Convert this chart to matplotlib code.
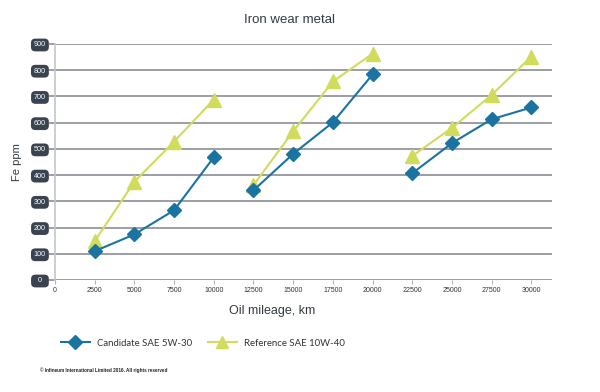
import matplotlib.pyplot as plt
from matplotlib.lines import Line2D

plt.rcParams['font.family'] = ['Liberation Sans', 'DejaVu Sans']

# mileage (km) for each test block
km = [2500, 5000, 7500, 10000, 12500, 15000, 17500, 20000,
      22500, 25000, 27500, 30000]
candidate = [110, 174, 266, 468, 342, 481, 601, 784, 407, 522, 613, 658]
reference = [148, 375, 528, 688, 362, 567, 757, 863, 473, 580, 706, 852]
blocks = [(0, 4), (4, 8), (8, 12)]

yticks = [0, 100, 200, 300, 400, 500, 600, 700, 800, 900]
xticks = [0, 2500, 5000, 7500, 10000, 12500, 15000, 17500, 20000,
          22500, 25000, 27500, 30000]

blue = '#1a73a0'
green = '#d1db5c'
dark = '#3a4350'

fig = plt.figure(figsize=(6, 3.92), dpi=100)
ax = fig.add_axes([55/600, 1-280/392, (552-55)/600, (280-44)/392])

for a, b in blocks:
    ax.plot(km[a:b], reference[a:b], '-^', color=green, lw=1.5, ms=9.5,
            mec=green, zorder=3)
    ax.plot(km[a:b], candidate[a:b], '-D', color=blue, lw=1.5, ms=7.5,
            mec=blue, zorder=4)

ax.set_xlim(0, 31300)
ax.set_ylim(0, 900)
ax.set_xticks(xticks)
ax.set_xticklabels([str(x) for x in xticks], fontsize=5, color='#333333')
ax.set_yticks(yticks)
ax.set_yticklabels([str(y) if y else '  0  ' for y in yticks],
                   fontsize=5.2, color='white')
for lab in ax.get_yticklabels():
    lab.set_bbox(dict(boxstyle='round,pad=0.4,rounding_size=0.6',
                      fc=dark, ec='none'))
ax.tick_params(axis='y', length=4, width=1.2, color='#8a8d96', pad=2.5)
ax.tick_params(axis='x', length=3, width=0.8, color='#b0b0b8', pad=2)

ax.grid(axis='y', color='#8a8d96', lw=1.2)
ax.set_axisbelow(True)
for s in ['top', 'right', 'bottom']:
    ax.spines[s].set_visible(False)
ax.spines['left'].set_color('#c4c6cc')
ax.spines['left'].set_linewidth(1.2)

fig.text(290/600, 1-20/392, 'Iron wear metal', ha='center', va='center',
         fontsize=9.5, color='#333a45')
fig.text(272/600, 1-311/392, 'Oil mileage, km', ha='center', va='center',
         fontsize=9, color='#333a45')
fig.text(17/600, 1-162/392, 'Fe ppm', ha='center', va='center',
         rotation=90, fontsize=8, color='#333a45')

handles = [Line2D([], [], color=blue, marker='D', lw=1.5, ms=7),
           Line2D([], [], color=green, marker='^', lw=1.5, ms=8.5)]
fig.legend(handles, ['Candidate SAE 5W-30', 'Reference SAE 10W-40'],
           loc='center left', bbox_to_anchor=(52/600, 1-343/392), ncol=2,
           frameon=False, prop={'family': 'Lato', 'size': 6.9},
           handlelength=3.1, columnspacing=1.6, handletextpad=0.7,
           labelcolor='#333333')

fig.text(40/600, 1-370/392,
         '\u00a9 Infineum International Limited 2016. All rights reserved',
         fontsize=3.3, fontweight='bold', color='#222222', va='center')

fig.savefig('out.png', dpi=100, facecolor='white')
